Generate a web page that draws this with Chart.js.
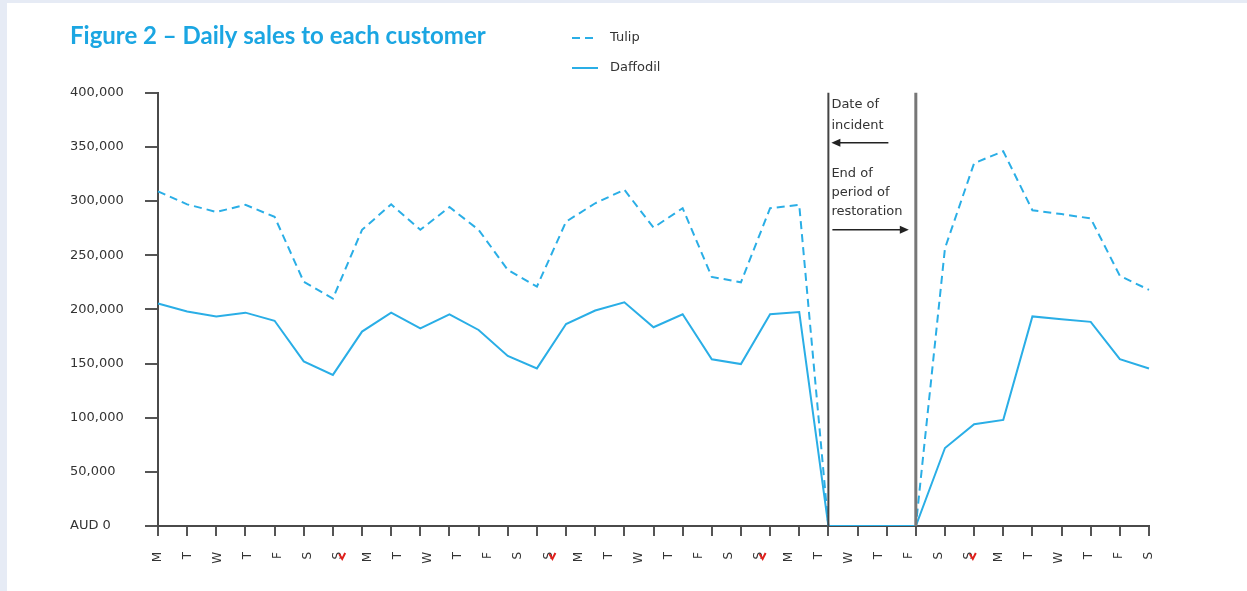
<!DOCTYPE html>
<html>
<head>
<meta charset="utf-8">
<script src="https://cdn.jsdelivr.net/npm/chart.js@4.4.1/dist/chart.umd.min.js"></script>
<style>
  html, body { margin: 0; padding: 0; background: #e6ebf5; }
  #wrap { position: absolute; left: 7px; top: 3px; width: 1240px; height: 588px; background: #fff; }
</style>
</head>
<body>
<div id="wrap"><canvas id="myChart" width="1240" height="588"></canvas></div>
<script>
// data
const days = ['1', '2', '3', '4', '5', '6', '7', '8', '9', '10', '11', '12',
  '13', '14', '15', '16', '17', '18', '19', '20', '21', '22', '23', '24',
  '25', '26', '27', '28', '29', '30', '31', '32', '33', '34', '35'];
const dayLabels = ['M', 'T', 'W', 'T', 'F', 'S', 'S',
                   'M', 'T', 'W', 'T', 'F', 'S', 'S',
                   'M', 'T', 'W', 'T', 'F', 'S', 'S',
                   'M', 'T', 'W', 'T', 'F', 'S', 'S',
                   'M', 'T', 'W', 'T', 'F', 'S'];
const markedDays = [6, 13, 20, 27];
const tulip = [309000, 297000, 290000, 296500, 285500, 225500, 210000, 273500, 297000, 273500,
               294500, 273500, 236500, 221000, 281000, 298000, 310500, 275500, 293500, 230000,
               225000, 293500, 296500, 0, 0, 0, 0, 256500, 335000, 346000,
               291500, 288000, 284000, 231000, 218000];
const daffodil = [205500, 198000, 193500, 197000, 189500, 152000, 139500, 179500, 197000, 182500,
                  195500, 181000, 157000, 145500, 186500, 199000, 206500, 183500, 195500, 154000,
                  149500, 195500, 197500, 0, 0, 0, 0, 72000, 94000, 98000,
                  193500, 191000, 188500, 154000, 145500];
const incidentDay = 23;
const restoredDay = 26;

const blue = '#2aaee6';
const axisGrey = '#4a4a4a';
const textGrey = '#333';

// legend drawn beside the title
const sideLegend = {
  id: 'sideLegend',
  afterDraw(chart) {
    const ctx = chart.ctx;
    ctx.save();
    chart.data.datasets.forEach((ds, i) => {
      const y = 35 + i * 30;
      ctx.strokeStyle = ds.borderColor;
      ctx.lineWidth = 2;
      ctx.setLineDash(ds.borderDash || []);
      ctx.beginPath();
      ctx.moveTo(565, y);
      ctx.lineTo(591, y);
      ctx.stroke();
      ctx.setLineDash([]);
      ctx.fillStyle = textGrey;
      ctx.font = '13px "DejaVu Sans"';
      ctx.textBaseline = 'middle';
      ctx.fillText(ds.label, 603, y);
    });
    ctx.restore();
  }
};

// incident / restoration markers
const incidentLines = {
  id: 'incidentLines',
  afterDatasetsDraw(chart) {
    const { ctx, scales: { x, y } } = chart;
    const top = y.getPixelForValue(400000);
    const bottom = y.getPixelForValue(0);
    const x1 = x.getPixelForValue(incidentDay);
    const x2 = x.getPixelForValue(restoredDay);
    ctx.save();
    ctx.strokeStyle = '#444';
    ctx.lineWidth = 2;
    ctx.beginPath();
    ctx.moveTo(x1, top);
    ctx.lineTo(x1, bottom);
    ctx.stroke();
    ctx.strokeStyle = '#777';
    ctx.lineWidth = 3;
    ctx.beginPath();
    ctx.moveTo(x2, top);
    ctx.lineTo(x2, bottom);
    ctx.stroke();

    ctx.fillStyle = textGrey;
    ctx.font = '13px "DejaVu Sans"';
    ctx.textBaseline = 'middle';
    const tx = x1 + 3;
    ctx.fillText('Date of', tx, top + 12);
    ctx.fillText('incident', tx, top + 33);
    ctx.fillText('End of', tx, top + 81);
    ctx.fillText('period of', tx, top + 100);
    ctx.fillText('restoration', tx, top + 119);

    // arrows
    ctx.strokeStyle = '#222';
    ctx.fillStyle = '#222';
    ctx.lineWidth = 1.5;
    let ay = top + 50;
    ctx.beginPath();
    ctx.moveTo(x1 + 60, ay);
    ctx.lineTo(x1 + 10, ay);
    ctx.stroke();
    ctx.beginPath();
    ctx.moveTo(x1 + 3, ay);
    ctx.lineTo(x1 + 12, ay - 4);
    ctx.lineTo(x1 + 12, ay + 4);
    ctx.closePath();
    ctx.fill();
    ay = top + 137;
    ctx.beginPath();
    ctx.moveTo(x1 + 4, ay);
    ctx.lineTo(x2 - 14, ay);
    ctx.stroke();
    ctx.beginPath();
    ctx.moveTo(x2 - 7, ay);
    ctx.lineTo(x2 - 16, ay - 4);
    ctx.lineTo(x2 - 16, ay + 4);
    ctx.closePath();
    ctx.fill();
    ctx.restore();
  }
};

// small red ticks next to the Sunday labels
const sundayMarks = {
  id: 'sundayMarks',
  afterDraw(chart) {
    const { ctx, scales: { x2 } } = chart;
    ctx.save();
    ctx.strokeStyle = '#e0201c';
    ctx.lineWidth = 2;
    markedDays.forEach(i => {
      const px = x2.getPixelForTick(i);
      ctx.beginPath();
      ctx.moveTo(px + 1, 551);
      ctx.lineTo(px + 4, 556);
      ctx.lineTo(px + 7, 550);
      ctx.stroke();
    });
    ctx.restore();
  }
};

const config = {
  type: 'line',
  data: {
    labels: days,
    datasets: [
      {
        label: 'Tulip',
        data: tulip,
        borderColor: blue,
        borderWidth: 2,
        borderDash: [8, 5],
        pointRadius: 0,
        tension: 0,
        fill: false,
      },
      {
        label: 'Daffodil',
        data: daffodil,
        borderColor: blue,
        borderWidth: 2,
        pointRadius: 0,
        tension: 0,
        fill: false,
      },
    ],
  },
  options: {
    responsive: false,
    animation: false,
    layout: { padding: { left: 63, right: 98, top: 0, bottom: 0 } },
    plugins: {
      legend: { display: false },
      tooltip: { enabled: false },
      title: {
        display: true,
        text: 'Figure 2 \u2013 Daily sales to each customer',
        align: 'start',
        color: '#1ba6e2',
        font: { family: 'Lato', size: 24, weight: 'bold', lineHeight: 1.2 },
        padding: { top: 19, bottom: 42 },
      },
    },
    scales: {
      x: {
        type: 'category',
        offset: false,
        grid: { drawOnChartArea: false, drawTicks: true, tickLength: 10, color: '#555', lineWidth: 2 },
        border: { display: true, color: axisGrey, width: 2 },
        ticks: { display: false, autoSkip: false },
      },
      x2: {
        type: 'category',
        position: 'bottom',
        weight: 1,
        labels: dayLabels,
        offset: false,
        grid: { display: false },
        border: { display: false },
        ticks: {
          autoSkip: false,
          maxRotation: 90,
          minRotation: 90,
          padding: 8,
          color: '#333',
          font: { family: 'DejaVu Sans', size: 12 },
        },
        afterFit(scale) { scale.height = 55; },
      },
      y: {
        min: 0,
        max: 400000,
        grid: { drawOnChartArea: false, drawTicks: true, tickLength: 13, color: '#555', lineWidth: 2 },
        border: { display: true, color: axisGrey, width: 2 },
        ticks: {
          stepSize: 50000,
          crossAlign: 'far',
          color: '#333',
          font: { family: 'DejaVu Sans', size: 13 },
          callback: (v) => v === 0 ? 'AUD 0' : v.toLocaleString('en-US'),
        },
        afterFit(scale) { scale.width = 88; },
      },
    },
  },
  plugins: [sideLegend, incidentLines, sundayMarks],
};

const myChart = new Chart(document.getElementById('myChart'), config);
</script>
</body>
</html>
